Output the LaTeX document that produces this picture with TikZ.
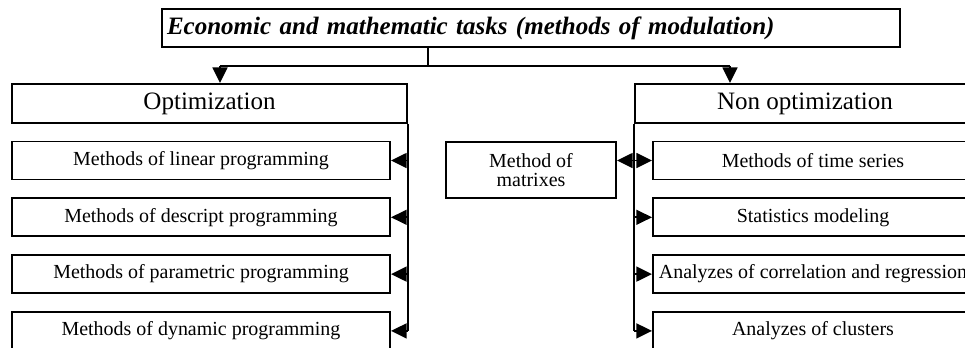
\documentclass[tikz,border=0pt]{standalone}
\usepackage{fontspec}
\setmainfont{Liberation Serif}
\usetikzlibrary{positioning,arrows.meta}

\tikzstyle{head} = [rectangle, minimum width=9.875cm, minimum height=0.975cm, text centered, draw=black, line width=1.4pt, font=\fontsize{17.8}{20}\selectfont]
\tikzstyle{method} = [rectangle, minimum height=0.95cm, text centered, draw=black, line width=1.4pt, inner sep=0pt, font=\fontsize{14.2}{13.5}\selectfont]
\tikzstyle{line} = [line width=1.4pt]
\tikzstyle{arrow} = [line width=1.4pt,-{Triangle[length=0.39cm,width=0.37cm]}]

\begin{document}
\begin{tikzpicture}[node distance=1.42cm]
\clip (0,0) rectangle (24.125,-8.675);
%boxes
\node (title) [head, minimum width=18.45cm, minimum height=0.95cm, inner xsep=0.125cm, text width=18.2cm, align=left, font=\fontsize{17.8}{20}\selectfont\bfseries\itshape] at (13.275,-0.7) {Economic and mathematic tasks (methods of modulation)};
\node (opt) [head] at (5.2375,-2.5875) {Optimization};
\node (nonopt) [head, minimum width=8.5cm] at (20.125,-2.5875) {Non optimization};

\node (lin) [method, minimum width=9.45cm] at (5.025,-4.0125) {Methods of linear programming};
\node (descr) [method, minimum width=9.45cm, below of=lin] {Methods of descript programming};
\node (param) [method, minimum width=9.45cm, below of=descr] {Methods of parametric programming};
\node (dyn) [method, minimum width=9.45cm, below of=param] {Methods of dynamic programming};

\node (matrix) [method, minimum width=4.25cm, minimum height=1.4cm, align=center] at (13.275,-4.25) {Method of\\matrixes};

\node (time) [method, minimum width=8cm] at (20.325,-4.0125) {Methods of time series};
\node (stat) [method, minimum width=8cm, below of=time] {Statistics modeling};
\node (corr) [method, minimum width=8cm, below of=stat] {Analyzes of correlation and regression};
\node (clust) [method, minimum width=8cm, below of=corr] {Analyzes of clusters};

%connectors
\coordinate (fork) at (10.7,-1.65);
\coordinate (optin) at (5.5,-1.65);
\coordinate (nonoptin) at (18.25,-1.65);
\draw [line](title.south -| fork) -- (fork);
\draw [line](optin) -- (nonoptin);
\draw [arrow](optin) -- (optin |- opt.north);
\draw [arrow](nonoptin) -- (nonoptin |- nonopt.north);

%Optimization
\draw [line](opt.south east) -- (opt.east |- dyn.east);
\foreach \n in {lin,descr,param,dyn}
  \draw [arrow](opt.east |- \n.east) -- (\n.east);

%Non optimization
\draw [line](nonopt.south west) -- (nonopt.west |- clust.west);
\foreach \n in {time,stat,corr,clust}
  \draw [arrow](nonopt.west |- \n.west) -- (\n.west);
\draw [arrow](nonopt.west |- time.west) -- (matrix.east |- time.west);

\end{tikzpicture}
\end{document}
